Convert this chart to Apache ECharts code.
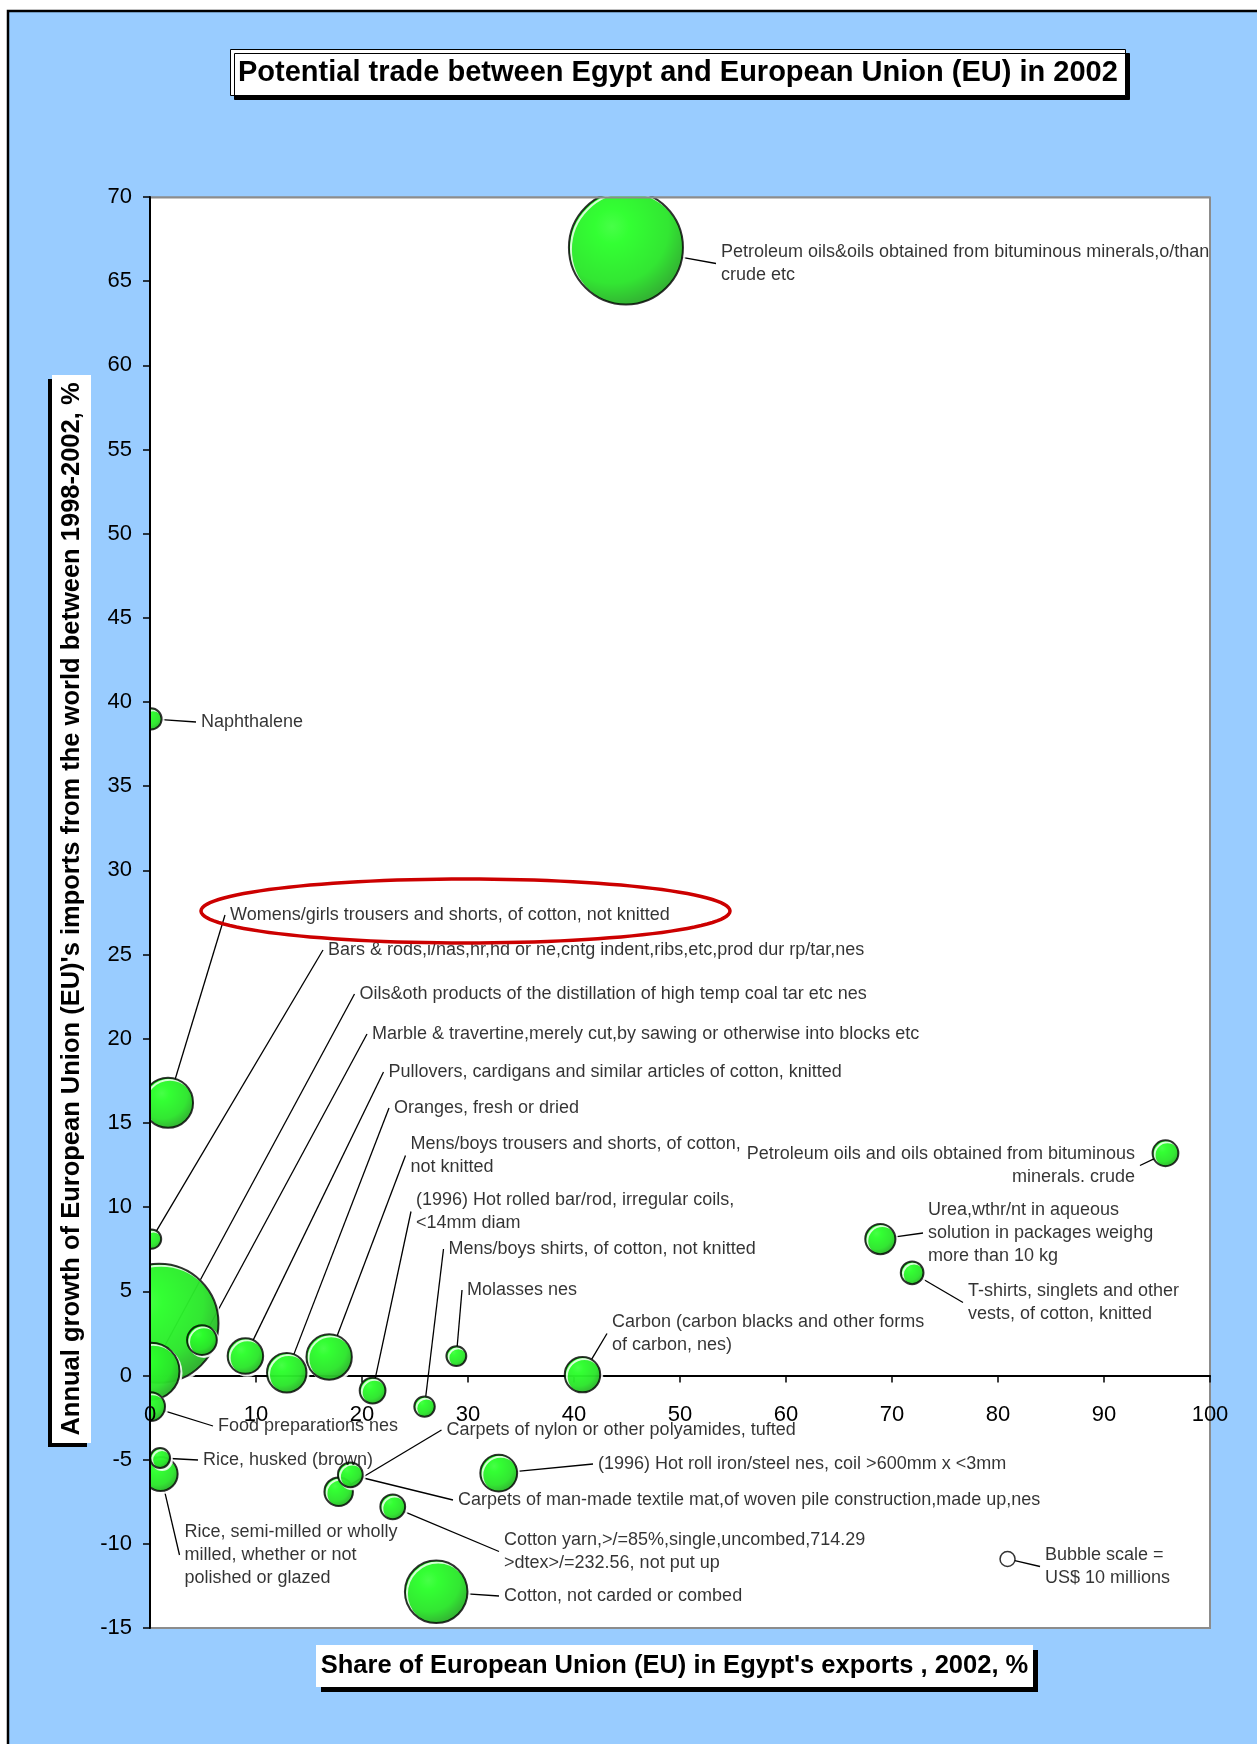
<!DOCTYPE html>
<html>
<head>
<meta charset="utf-8">
<title>Potential trade between Egypt and European Union (EU) in 2002</title>
<script src="https://cdn.jsdelivr.net/npm/echarts@6/dist/echarts.min.js"></script>
<style>
html, body { margin: 0; padding: 0; background: #fff; }
#chart { width: 1257px; height: 1744px; }
</style>
</head>
<body>
<div id="chart"></div>
<script>
// product names (line breaks as in the picture)
var names = [
    'Petroleum oils&oils obtained from bituminous minerals,o/than\ncrude etc',
    'Naphthalene',
    'Womens/girls trousers and shorts, of cotton, not knitted',
    'Bars & rods,i/nas,hr,hd or ne,cntg indent,ribs,etc,prod dur rp/tar,nes',
    'Oils&oth products of the distillation of high temp coal tar etc nes',
    'Marble & travertine,merely cut,by sawing or otherwise into blocks etc',
    'Pullovers, cardigans and similar articles of cotton, knitted',
    'Oranges, fresh or dried',
    'Mens/boys trousers and shorts, of cotton,\nnot knitted',
    '(1996) Hot rolled bar/rod, irregular coils,\n<14mm diam',
    'Mens/boys shirts, of cotton, not knitted',
    'Molasses nes',
    'Carbon (carbon blacks and other forms\nof carbon, nes)',
    '',
    'Food preparations nes',
    'Rice, husked (brown)',
    'Rice, semi-milled or wholly\nmilled, whether or not\npolished or glazed',
    'Carpets of nylon or other polyamides, tufted',
    'Carpets of man-made textile mat,of woven pile construction,made up,nes',
    '(1996) Hot roll iron/steel nes, coil >600mm x <3mm',
    'Cotton yarn,>/=85%,single,uncombed,714.29\n>dtex>/=232.56, not put up',
    'Cotton, not carded or combed',
    'Petroleum oils and oils obtained from bituminous\nminerals. crude',
    'Urea,wthr/nt in aqueous\nsolution in packages weighg\nmore than 10 kg',
    'T-shirts, singlets and other\nvests, of cotton, knitted'
];
// share of EU in Egypt's exports, 2002, %
var shareEU = [44.9, 0.1, 1.7, 0.15, 0.1, 4.9, 9.0, 12.9, 16.9, 21.0, 25.9, 28.9, 40.8, 0.85,
    0.05, 0.95, 1.0, 17.8, 18.9, 32.9, 22.9, 27.0, 95.8, 68.9, 71.9];
// annual growth of EU imports from the world 1998-2002, %
var growthEU = [67.0, 39.0, 16.2, 8.1, 0.25, 2.1, 1.15, 0.16, 1.1, -0.9, -1.85, 1.15, 0.05, 3.1,
    -1.85, -4.9, -5.85, -6.9, -5.9, -5.8, -7.8, -12.85, 13.2, 8.1, 6.1];
// trade value, US$ millions (bubble size)
var tradeValue = [517, 19, 102, 16, 131, 37, 52, 64, 84, 28, 18, 17, 52, 562,
    35, 17, 48, 34, 26, 56, 26, 158, 28, 38, 22];
// bubble scale point: x, y, US$ millions
var scaleBubble = [80.9, -10.9, 10];
var scaleText = 'Bubble scale =\nUS$ 10 millions';

var xMin = 0, xMax = 100, xStep = 10;
var yMin = -15, yMax = 70, yStep = 5;

// where each label sits on the page: text left (or right) edge, block top, align
var labelPos = [
    [721, 240.5], [201, 710.5], [230, 903.5], [328, 938.5], [359.5, 982.5],
    [372, 1022.5], [388.5, 1060.5], [394, 1096.5], [410.5, 1132.5], [416, 1188.5],
    [448.5, 1237.5], [467, 1278.5], [612, 1310.5], null,
    [218, 1414.5], [203, 1448.5], [184.5, 1520.5], [446.5, 1418.5], [458, 1488.5],
    [598, 1452.5], [504, 1528.5], [504, 1584.5], [1135, 1142.5, 'right'],
    [928, 1198.5], [968, 1279.5]
];
var scaleLabelPos = [1045, 1543.5];

var FONT = 'Arial, "Liberation Sans", sans-serif';
var BLUE = '#99CCFF';
var GRID = { left: 150, right: 47, top: 197, bottom: 116 };
var plotHeight = 1744 - GRID.top - GRID.bottom;
// lift the tick-label axis up to the y = 0 line
var zeroOffset = -(0 - yMin) / (yMax - yMin) * plotHeight;

var chart = echarts.init(document.getElementById('chart'));

function bubbleSize(val) {
    return 16 * Math.sqrt(val[2] / 10) - 1;
}

function placeLabel(pos) {
    if (!pos) return null;
    var right = pos[2] === 'right';
    return {
        x: right ? pos[0] + 5 : pos[0] - 5,
        y: pos[1],
        align: right ? 'right' : 'left',
        verticalAlign: 'top'
    };
}

// bigger bubbles first so the small ones sit on top
var order = tradeValue.map(function (v, i) { return i; });
order.sort(function (a, b) { return tradeValue[b] - tradeValue[a]; });

var bubbleData = order.map(function (i) {
    var item = { name: names[i], value: [shareEU[i], growthEU[i], tradeValue[i]] };
    var pos = labelPos[i];
    if (!pos) {
        item.label = { show: false };
        item.labelLine = { show: false };
    } else if (pos[2] === 'right') {
        item.label = { padding: [0, 5, 0, 0], align: 'right' };
    }
    return item;
});

var green = {
    type: 'radial', x: 0.38, y: 0.32, r: 0.75,
    colorStops: [
        { offset: 0, color: '#19ff19' },
        { offset: 0.2, color: '#00ff00' },
        { offset: 0.65, color: '#00e000' },
        { offset: 1, color: '#008c00' }
    ]
};

// red ring around the highlighted label
var ellipsePts = [];
for (var k = 0; k < 120; k++) {
    var a = k / 120 * Math.PI * 2;
    ellipsePts.push([465.5 + 264.5 * Math.cos(a), 911 + 32 * Math.sin(a)]);
}

var labelStyle = {
    show: true,
    formatter: '{b}',
    color: '#000',
    fontSize: 18,
    lineHeight: 23,
    fontFamily: FONT,
    padding: [0, 0, 0, 5]
};

var option = {
    animation: false,
    backgroundColor: BLUE,
    title: {
        text: 'Potential trade between Egypt and European Union (EU) in 2002',
        left: 230,
        top: 49,
        padding: [8, 8, 8, 8],
        backgroundColor: '#fff',
        borderColor: '#000',
        borderWidth: 1,
        shadowColor: '#000',
        shadowBlur: 0,
        shadowOffsetX: 4,
        shadowOffsetY: 4,
        textStyle: { fontSize: 29, lineHeight: 31, fontWeight: 'bold', color: '#000', fontFamily: FONT }
    },
    grid: {
        left: GRID.left, right: GRID.right, top: GRID.top, bottom: GRID.bottom,
        show: true,
        backgroundColor: '#fff',
        borderColor: '#8c8c8c',
        borderWidth: 2,
        containLabel: false,
        outerBoundsMode: 'none'
    },
    xAxis: [{
        type: 'value', min: xMin, max: xMax, interval: xStep,
        axisLine: { show: true, onZero: true, lineStyle: { color: '#000', width: 2 } },
        axisTick: { show: true, length: 7, inside: false, lineStyle: { color: '#000', width: 1.5 } },
        axisLabel: { show: false },
        splitLine: { show: false }
    }, {
        type: 'value', min: xMin, max: xMax, interval: xStep, position: 'bottom', z: 10,
        offset: zeroOffset,
        axisLine: { show: false, onZero: false },
        axisTick: { show: false },
        axisLabel: {
            show: true, margin: 28, fontSize: 22, color: '#000', fontFamily: FONT,
            showMinLabel: true, showMaxLabel: true, hideOverlap: false
        },
        splitLine: { show: false }
    }],
    yAxis: {
        type: 'value', min: yMin, max: yMax, interval: yStep, z: 10,
        axisLine: { show: true, onZero: false, lineStyle: { color: '#000', width: 2 } },
        axisTick: { show: true, length: 7, inside: false, lineStyle: { color: '#000', width: 1.5 } },
        axisLabel: {
            show: true, margin: 18, fontSize: 22, color: '#000', fontFamily: FONT,
            showMinLabel: true, showMaxLabel: true
        },
        splitLine: { show: false }
    },
    series: [{
        name: 'Products',
        type: 'scatter',
        xAxisIndex: 0,
        data: bubbleData,
        symbol: 'circle',
        symbolSize: bubbleSize,
        itemStyle: {
            color: green, borderColor: '#000', borderWidth: 2,
            shadowColor: '#fff', shadowBlur: 0, shadowOffsetX: 2, shadowOffsetY: 2
        },
        label: labelStyle,
        labelLine: { show: true, lineStyle: { color: '#000', width: 1.3 } },
        labelLayout: function (p) {
            return placeLabel(labelPos[order[p.dataIndex]]);
        },
        emphasis: { disabled: true },
        z: 2
    }, {
        name: 'Bubble scale',
        type: 'scatter',
        xAxisIndex: 0,
        data: [{ name: scaleText, value: scaleBubble }],
        symbol: 'circle',
        symbolSize: bubbleSize,
        itemStyle: { color: '#fff', borderColor: '#000', borderWidth: 1.5 },
        label: labelStyle,
        labelLine: { show: true, lineStyle: { color: '#000', width: 1.3 } },
        labelLayout: function () {
            return placeLabel(scaleLabelPos);
        },
        emphasis: { disabled: true },
        z: 2
    }],
    graphic: [
        // white page margin and black frame at top-left
        { type: 'rect', silent: true, z: 1, shape: { x: 0, y: 0, width: 1257, height: 10 }, style: { fill: '#fff' } },
        { type: 'rect', silent: true, z: 1, shape: { x: 0, y: 0, width: 7, height: 1744 }, style: { fill: '#fff' } },
        { type: 'polyline', silent: true, z: 1, shape: { points: [[8, 1744], [8, 11], [1257, 11]] },
          style: { stroke: '#000', lineWidth: 2.5, fill: null } },
        // clip bubbles at plot edges
        { type: 'rect', silent: true, z: 3, shape: { x: 10, y: 140, width: 139, height: 1500 }, style: { fill: BLUE } },
        { type: 'rect', silent: true, z: 3, shape: { x: 149, y: 140, width: 1070, height: 56.5 }, style: { fill: BLUE } },
        { type: 'line', silent: true, z: 4, shape: { x1: 150, y1: 197.5, x2: 1210, y2: 197.5 },
          style: { stroke: '#8c8c8c', lineWidth: 2 } },
        // red ring
        { type: 'polygon', silent: true, z: 10, shape: { points: ellipsePts },
          style: { fill: null, stroke: '#cc0000', lineWidth: 3.5 } },
        // x axis title
        { type: 'rect', silent: true, z: 11, shape: { x: 321, y: 1650, width: 717, height: 42 }, style: { fill: '#000' } },
        { type: 'rect', silent: true, z: 12, shape: { x: 316, y: 1645, width: 717, height: 42 }, style: { fill: '#fff' } },
        { type: 'text', silent: true, z: 13, x: 674.5, y: 1666,
          style: { text: "Share of European Union (EU) in Egypt's exports , 2002, %", align: 'center', verticalAlign: 'middle',
                   font: 'bold 25.5px ' + FONT, fill: '#000' } },
        // y axis title
        { type: 'rect', silent: true, z: 11, shape: { x: 48, y: 379, width: 39, height: 1068 }, style: { fill: '#000' } },
        { type: 'rect', silent: true, z: 12, shape: { x: 52, y: 375, width: 39, height: 1068 }, style: { fill: '#fff' } },
        { type: 'text', silent: true, z: 13, x: 72, y: 909, rotation: Math.PI / 2,
          style: { text: "Annual growth of European Union (EU)'s imports from the world between 1998-2002, %",
                   align: 'center', verticalAlign: 'middle', font: 'bold 25.5px ' + FONT, fill: '#000' } }
    ]
};

chart.setOption(option);
</script>
</body>
</html>
